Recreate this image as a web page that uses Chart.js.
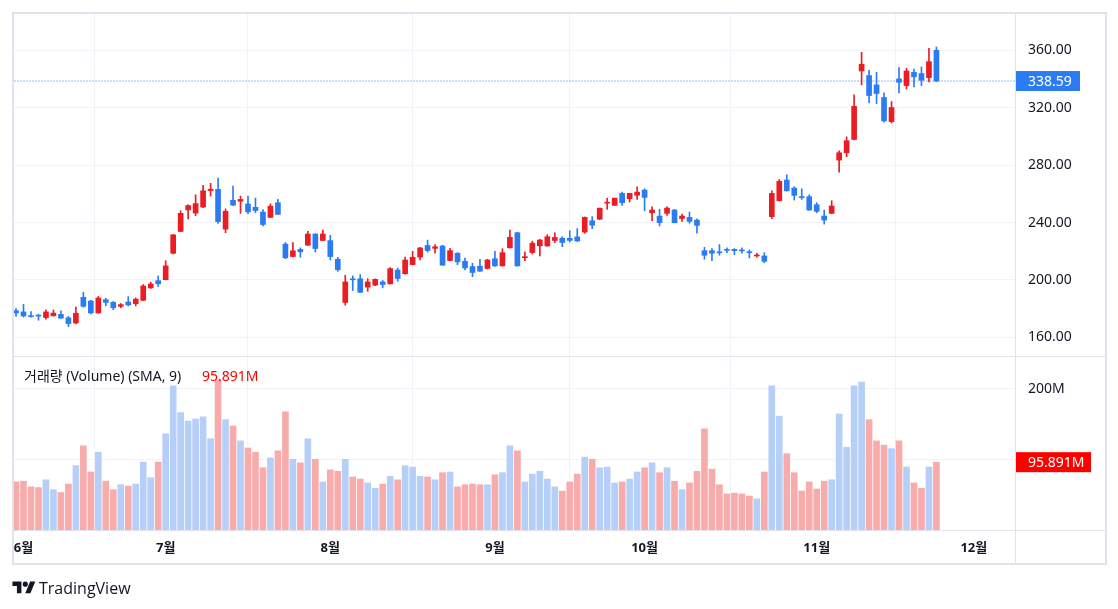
<!DOCTYPE html>
<html>
<head>
<meta charset="utf-8">
<script src="https://cdn.jsdelivr.net/npm/chart.js@4.4.1/dist/chart.umd.min.js"></script>
<style>
  html, body { margin: 0; padding: 0; background: #fff; }
  #wrap { position: relative; width: 1118px; height: 609px; }
  #logo { position: absolute; left: 12px; top: 577px; display: flex; align-items: center;
          font-family: 'Open Sans', 'Noto Sans', sans-serif; font-size: 16px; color: #131722; }
  #logo svg { margin-right: 3px; }
</style>
</head>
<body>
<div id="wrap">
  <canvas id="priceChart" width="1118" height="609"></canvas>
  <div id="logo">
    <svg width="24" height="18" viewBox="0 0 36 28"><path d="M14 22H7V11H0V4h14v18z" fill="#131722"/><circle cx="20" cy="8" r="4" fill="#131722"/><path d="M28 22h-8l7.5-18h8z" fill="#131722"/></svg>
    <span>TradingView</span>
  </div>
</div>
<script>
// daily candles, 31 May .. 25 Nov (index = trading day)
const opens = [178.6, 177.7, 174.8, 175.3, 173.8, 175.0, 176.0, 173.6, 170.0, 187.9,
  185.3, 177.0, 186.2, 184.4, 181.6, 184.6, 183.5, 185.8, 194.5, 199.5,
  200.2, 218.6, 233.8, 248.8, 246.6, 250.8, 262.3, 263.1, 235.4, 255.5,
  254.8, 252.9, 250.6, 247.3, 243.6, 253.8, 225.0, 216.3, 221.3, 224.2,
  232.0, 227.5, 227.4, 214.4, 184.3, 200.8, 200.8, 195.0, 196.4, 198.6,
  197.3, 206.9, 204.3, 210.7, 215.9, 224.0, 222.0, 223.6, 213.5, 218.6,
  213.0, 209.3, 209.6, 208.0, 214.8, 209.8, 222.4, 232.9, 215.5, 219.1,
  223.8, 223.7, 227.5, 229.1, 229.0, 230.0, 233.4, 241.2, 242.3, 253.5,
  252.0, 260.3, 256.6, 259.0, 262.6, 246.8, 244.5, 246.4, 248.7, 242.8,
  243.6, 241.7, 220.4, 220.4, 219.6, 221.1, 221.3, 220.7, 219.4, 216.7,
  216.7, 244.1, 255.2, 269.6, 264.0, 258.0, 258.0, 252.4, 244.5, 246.4,
  283.5, 288.6, 297.9, 345.6, 342.4, 335.9, 327.1, 310.3, 340.1, 335.4,
  344.7, 343.8, 341.0, 360.0];
const highs = [180.0, 183.0, 178.0, 176.0, 179.1, 179.1, 178.4, 174.6, 181.0, 191.3,
  185.8, 188.5, 187.2, 185.0, 183.6, 188.4, 187.5, 196.8, 198.5, 202.8,
  213.4, 231.8, 248.2, 252.4, 259.3, 265.9, 267.3, 271.0, 249.5, 265.4,
  258.4, 258.4, 257.0, 249.0, 253.0, 256.1, 226.0, 226.0, 222.3, 233.9,
  232.2, 234.8, 231.1, 215.8, 203.3, 202.8, 203.7, 200.9, 200.7, 199.6,
  208.6, 208.3, 216.0, 219.9, 222.7, 227.8, 224.6, 224.2, 222.0, 219.0,
  215.3, 211.6, 214.4, 214.4, 220.0, 221.8, 234.8, 233.3, 219.5, 227.0,
  228.3, 231.5, 232.9, 230.1, 234.3, 235.7, 243.9, 244.1, 250.1, 257.0,
  257.0, 261.2, 260.4, 264.9, 263.5, 251.0, 249.2, 251.0, 249.2, 245.9,
  247.3, 242.6, 222.7, 221.8, 224.6, 222.3, 221.8, 222.3, 220.9, 218.6,
  219.0, 262.1, 270.0, 273.3, 264.9, 263.5, 259.3, 253.8, 248.7, 255.2,
  290.0, 299.7, 328.9, 358.6, 346.1, 344.7, 330.3, 324.3, 348.0, 347.5,
  347.0, 348.4, 361.4, 362.3];
const lows = [174.5, 174.1, 174.0, 171.9, 172.7, 174.8, 173.1, 167.5, 169.4, 181.0,
  176.3, 176.8, 182.0, 179.3, 180.6, 181.9, 181.9, 185.6, 194.0, 195.4,
  200.0, 218.2, 233.6, 242.6, 244.8, 250.4, 258.4, 239.4, 232.9, 251.8,
  246.4, 246.2, 246.8, 237.6, 243.4, 245.4, 214.8, 216.1, 215.8, 224.0,
  219.5, 227.3, 213.9, 206.0, 182.4, 192.6, 191.2, 192.1, 196.0, 194.5,
  197.1, 199.1, 204.1, 210.5, 213.9, 219.5, 218.6, 210.1, 213.3, 210.7,
  207.0, 202.3, 205.9, 207.6, 209.5, 209.6, 222.1, 209.6, 213.4, 218.1,
  216.7, 223.4, 226.0, 223.2, 226.4, 226.8, 232.5, 235.7, 242.0, 249.2,
  251.8, 252.0, 254.3, 256.1, 248.2, 241.3, 237.6, 245.0, 239.7, 240.8,
  239.5, 232.5, 214.4, 213.4, 217.2, 219.0, 217.6, 218.6, 215.3, 215.8,
  212.0, 242.7, 255.0, 261.9, 255.7, 256.1, 248.5, 246.8, 238.9, 246.2,
  275.1, 285.8, 297.6, 335.9, 323.3, 322.9, 309.9, 309.4, 330.3, 333.1,
  334.5, 335.4, 338.0, 338.2];
const closes = [177.0, 174.9, 174.4, 174.8, 177.7, 176.9, 173.4, 169.6, 176.8, 181.6,
  177.0, 187.4, 184.3, 180.6, 182.8, 182.6, 186.6, 195.8, 197.2, 197.3,
  209.8, 231.4, 246.4, 251.8, 253.2, 262.1, 263.2, 240.6, 247.8, 252.1,
  256.1, 247.4, 248.4, 238.6, 251.4, 245.7, 215.4, 220.3, 219.6, 232.0,
  221.9, 232.0, 216.3, 207.1, 198.6, 200.1, 191.4, 198.6, 200.4, 196.8,
  207.9, 201.0, 213.9, 215.8, 222.3, 220.5, 223.1, 210.3, 220.4, 212.6,
  208.4, 205.2, 206.1, 213.9, 209.8, 219.0, 229.7, 209.8, 215.9, 225.6,
  227.8, 230.1, 229.6, 226.1, 227.5, 227.1, 243.6, 238.1, 250.0, 254.2,
  257.0, 253.8, 260.3, 261.2, 257.5, 248.7, 239.9, 250.1, 239.9, 244.5,
  240.8, 238.0, 217.2, 218.6, 218.9, 220.6, 220.4, 220.2, 219.0, 217.2,
  213.0, 260.3, 268.7, 262.1, 258.9, 257.4, 248.7, 247.8, 241.7, 251.5,
  288.6, 297.0, 321.0, 350.3, 328.5, 329.9, 310.8, 320.1, 337.7, 345.6,
  341.5, 339.1, 352.1, 338.59];
// volume in millions
const volumes = [68, 69, 61, 60, 71, 57, 53, 65, 91, 119,
  82, 110, 69, 57, 64, 62, 65, 96, 74, 96,
  136, 204, 166, 154, 157, 160, 129, 212, 156, 147,
  126, 116, 110, 88, 102, 112, 167, 100, 95, 129,
  100, 68, 85, 83, 100, 75, 72, 66.5, 59, 65,
  76, 71, 91, 89, 76, 75, 71, 81, 82, 61,
  64, 65, 64, 64, 78, 81, 119, 112, 68, 79,
  83, 72, 61, 55, 68, 79, 103, 100, 88, 89,
  66.5, 68, 72, 82, 88, 95, 81, 88, 69, 57,
  66.5, 83, 143, 86, 64, 51, 52, 51, 48, 44,
  82, 204, 161, 108, 81, 55, 68, 58, 69, 71,
  164, 117, 204, 209, 156, 126, 120, 115, 126, 89,
  66.5, 59, 89, 95.891];

const monthTicks = [1, 20, 42, 64, 84, 107, 128];
const monthLabels = ['6월', '7월', '8월', '9월', '10월', '11월', '12월'];
const priceTicks = [160, 200, 240, 280, 320, 360];
const volTicks = [100, 200];

const FONT = "'Noto Sans', 'Noto Sans CJK KR', sans-serif";
const RED = '#ea1c24';
const BLUE = '#2b7cf2';
const VOL_RED = '#f8abab';
const VOL_BLUE = '#b6cff8';
const LINE = '#e0e3eb';
const GRID = '#f0f3fa';

const idx = opens.map((_, i) => i);
const isUp = i => closes[i] >= opens[i];
const candleColors = idx.map(i => isUp(i) ? RED : BLUE);
const volColors = idx.map(i => isUp(i) ? VOL_BLUE : VOL_RED);
const last = idx.length - 1;

//////////// frame + axis labels plugin ////////////
const paneDecor = {
  id: 'paneDecor',
  afterDraw(chart) {
    const ctx = chart.ctx;
    const area = chart.chartArea;
    const yP = chart.scales.yP, yV = chart.scales.yV;
    ctx.save();
    // cut the first month label at the frame
    ctx.fillStyle = '#fff';
    ctx.fillRect(0, area.bottom + 1, 12, 40);

    ctx.strokeStyle = LINE;
    ctx.lineWidth = 1;
    ctx.beginPath();
    ctx.moveTo(area.left, Math.round(yP.bottom) + 0.5);
    ctx.lineTo(1105, Math.round(yP.bottom) + 0.5);
    ctx.moveTo(area.left, Math.round(area.bottom) + 0.5);
    ctx.lineTo(1105, Math.round(area.bottom) + 0.5);
    ctx.moveTo(Math.round(area.right) + 0.5, area.top);
    ctx.lineTo(Math.round(area.right) + 0.5, 564);
    ctx.stroke();
    ctx.lineWidth = 2;
    ctx.strokeRect(13, 13, 1093, 551);

    // last price label
    const py = yP.getPixelForValue(closes[last]);
    ctx.fillStyle = isUp(last) ? RED : BLUE;
    ctx.fillRect(area.right + 1, py - 10, 64, 20);
    ctx.fillStyle = '#fff';
    ctx.font = '14px ' + FONT;
    ctx.textBaseline = 'middle';
    ctx.textAlign = 'left';
    ctx.fillText(closes[last].toFixed(2), area.right + 13, py + 1);

    // last volume label
    const vy = yV.getPixelForValue(volumes[last]);
    ctx.fillStyle = '#ff0000';
    ctx.fillRect(area.right + 1, vy - 10, 75, 20);
    ctx.fillStyle = '#fff';
    ctx.fillText(volumes[last].toFixed(3) + 'M', area.right + 13, vy + 1);

    // pane title
    ctx.fillStyle = '#131722';
    ctx.fillText('거래량 (Volume) (SMA, 9)', 24, yP.bottom + 21);
    ctx.fillStyle = '#ff0000';
    ctx.fillText(volumes[last].toFixed(3) + 'M', 202, yP.bottom + 21);
    ctx.restore();
  }
};

const fixSide = s => { s.width = 90; s.paddingTop = 0; s.paddingBottom = 0; };

const config = {
  type: 'bar',
  data: {
    datasets: [{
      label: 'body',
      data: idx.map(i => ({ x: i, y: [opens[i], closes[i]] })),
      backgroundColor: candleColors,
      barThickness: 5,
      minBarLength: 1,
      grouped: false,
      yAxisID: 'yP',
      order: 1
    }, {
      label: 'wick',
      data: idx.map(i => ({ x: i, y: [lows[i], highs[i]] })),
      backgroundColor: candleColors,
      barThickness: 1,
      grouped: false,
      yAxisID: 'yP',
      order: 2
    }, {
      type: 'line',
      label: 'last',
      data: [{ x: -1, y: closes[last] }, { x: 140, y: closes[last] }],
      borderColor: BLUE,
      borderWidth: 1,
      borderDash: [1, 2],
      pointRadius: 0,
      yAxisID: 'yP',
      order: 3
    }, {
      label: 'volume',
      data: idx.map(i => ({ x: i, y: volumes[i] })),
      backgroundColor: volColors,
      barThickness: 6,
      grouped: false,
      yAxisID: 'yV',
      order: 4
    }]
  },
  options: {
    responsive: false,
    animation: false,
    layout: { padding: { left: 14, right: 13, top: 14, bottom: 45 } },
    plugins: {
      legend: { display: false },
      tooltip: { enabled: false }
    },
    scales: {
      x: {
        type: 'linear',
        min: -0.27,
        max: 133.5,
        offset: false,
        afterBuildTicks: s => { s.ticks = monthTicks.map(v => ({ value: v })); },
        afterFit: s => { s.height = 34; },
        grid: { color: GRID, drawTicks: false },
        border: { display: false },
        ticks: {
          autoSkip: false, maxRotation: 0, padding: 10, color: '#131722',
          font: { size: 13, weight: 'bold', family: FONT },
          callback: (v, i) => monthLabels[i]
        }
      },
      yP: {
        position: 'right',
        stack: 'panes',
        stackWeight: 342,
        min: 147,
        max: 385.3,
        afterBuildTicks: s => { s.ticks = priceTicks.map(v => ({ value: v })); },
        afterFit: fixSide,
        grid: { color: GRID, drawTicks: false },
        border: { display: false },
        ticks: { padding: 13, color: '#131722', font: { size: 14, family: FONT },
          callback: v => v.toFixed(2) }
      },
      yV: {
        position: 'right',
        stack: 'panes',
        stackWeight: 174,
        min: 0,
        max: 246,
        afterBuildTicks: s => { s.ticks = volTicks.map(v => ({ value: v })); },
        afterFit: fixSide,
        grid: { color: GRID, drawTicks: false },
        border: { display: false },
        ticks: { padding: 13, color: '#131722', font: { size: 14, family: FONT },
          callback: v => v === 200 ? '200M' : '' }
      }
    }
  },
  plugins: [paneDecor]
};

const myChart = new Chart(document.getElementById('priceChart'), config);
</script>
</body>
</html>
